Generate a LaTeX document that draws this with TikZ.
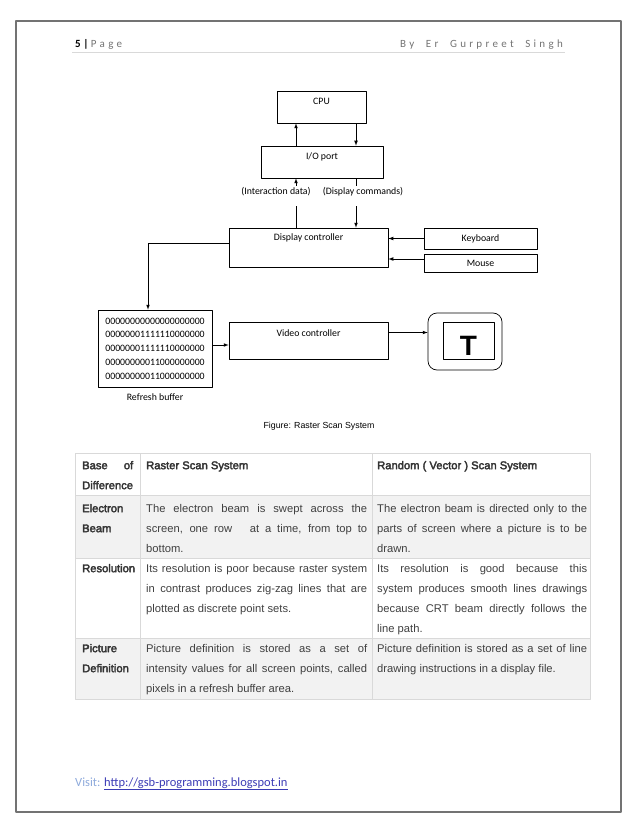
\documentclass[tikz,border=0pt]{standalone}
\usepackage{fontspec}
\setmainfont{Carlito}
\newfontfamily\arial{Liberation Sans}
\newfontfamily\arialb[FakeBold=3]{Liberation Sans}
\usetikzlibrary{positioning}
\definecolor{rowgray}{HTML}{F2F2F2}
\definecolor{tabline}{HTML}{D9D9D9}
\definecolor{visitblue}{HTML}{8EAADB}
\definecolor{linkblue}{HTML}{3B3BB5}
\newcommand{\jl}[2]{\makebox[#1][s]{#2}}

\begin{document}
\begin{tikzpicture}[x=1pt,y=-1pt,>=latex,line join=round,
  box/.style={draw,line width=0.7pt,inner sep=0pt},
  lbl/.style={font=\fontsize{9.8}{11}\selectfont},
  toplbl/.style={lbl,anchor=center,yshift=-#1},
  conlbl/.style={lbl,anchor=base,fill=white,inner xsep=1pt,inner ysep=0pt,
    text height=8.5pt,text depth=11.5pt},
  cell/.style={anchor=north west,inner sep=0pt,align=left,text=black!75,
    font=\arial\fontsize{11.2}{20}\selectfont},
  head/.style={cell,text=black!80,font=\arialb\fontsize{11.2}{20}\selectfont}]
  \useasboundingbox (0,0) rectangle (638,826);
  \def\wB{221pt}
  \def\wC{210pt}
  % page frame, header and footer
  \draw[black!55,line width=1.2pt] (16,21) rectangle (621,812);
  \node[anchor=base west,inner sep=0pt,font=\fontsize{11}{13}\selectfont] (pgno) at (75,48)
    {\textbf{5 |} \textcolor{black!55}{\addfontfeature{LetterSpace=30}Page}};
  \node[anchor=base east,inner sep=0pt,font=\fontsize{11}{13}\selectfont,text=black!55] (author) at (563,48)
    {\addfontfeature{LetterSpace=30}By\ \ Er\ \ Gurpreet\ \ Singh};
  \draw[black!15] (72,52) -- (565,52);
  \node[anchor=base west,inner sep=0pt,font=\fontsize{12.5}{15}\selectfont] (visit) at (75,786)
    {\textcolor{visitblue}{Visit:} \textcolor{linkblue}{\underline{http://gsb-programming.blogspot.in}}};

  % boxes of the raster scan system
  \node[box,minimum width=89pt,minimum height=32pt,label={[toplbl=11pt]north:CPU}] (cpu) at (321.5,107) {};
  \node[box,minimum width=122pt,minimum height=32pt,label={[toplbl=11pt]north:I/O port}] (io) at (322,162) {};
  \node[box,minimum width=159pt,minimum height=39pt,label={[toplbl=10pt]north:Display controller}] (disp) at (308.5,247.5) {};
  \node[box,lbl,minimum width=113pt,minimum height=21pt] (kbd) at (480.5,238.5) {Keyboard};
  \node[box,lbl,minimum width=113pt,minimum height=18pt] (mouse) at (480.5,263) {Mouse};
  \node[box,minimum width=114pt,minimum height=77pt,align=center,font=\fontsize{9.8}{13.75}\selectfont] (buf) at (155,348.5)
    {00000000000000000000\\00000001111110000000\\00000001111110000000\\00000000011000000000\\00000000011000000000};
  \node[lbl,below=3pt of buf] (buflbl) {Refresh buffer};
  \node[box,minimum width=159pt,minimum height=37pt,label={[toplbl=11pt]north:Video controller}] (vid) at (308.5,340.5) {};
  % monitor with the letter on screen
  \node[box,rounded corners=9pt,minimum width=74pt,minimum height=57pt] (mon) at (465,341.5) {};
  \node[box,minimum width=51pt,minimum height=37pt] (scr) at (468.5,340.5) {};
  \node[font=\arial\bfseries\fontsize{28}{30}\selectfont,inner sep=0pt] (tee) at (468.5,346) {T};

  % connectors
  \begin{scope}[line width=0.7pt]
    \draw[->] ([xshift=-26pt]io.north) -- ([xshift=-26pt]io.north |- cpu.south);
    \draw[->] ([xshift=34pt]io.north |- cpu.south) -- ([xshift=34pt]io.north);
    \draw[->] ([xshift=-26pt]io.south |- disp.north) -- ([xshift=-26pt]io.south);
    \draw[->] ([xshift=34pt]io.south) -- ([xshift=34pt]io.south |- disp.north);
    \draw[->] (kbd.west) -- (kbd.west -| disp.east);
    \draw[->] ([yshift=4pt]mouse.west) -- ([yshift=4pt]mouse.west -| disp.east);
    \draw[->] ([yshift=4pt]disp.west) -| ([xshift=-7pt]buf.north);
    \draw[->] ([yshift=-4.5pt]vid.west -| buf.east) -- ([yshift=-4.5pt]vid.west);
    \draw[->] ([yshift=8pt]vid.east) -- ([yshift=8pt]vid.east -| mon.west);
  \end{scope}
  \node[conlbl] (intdata) at (276,194.5) {(Interaction data)};
  \node[conlbl] (dispcmd) at (363,194.5) {(Display commands)};

  \node[font=\arial\fontsize{8.8}{10}\selectfont] (figcap) at (319,426) {Figure: Raster Scan System};

  % comparison table
  \fill[rowgray] (75,495) rectangle (590,558);
  \fill[rowgray] (75,638) rectangle (590,699);
  \foreach \y in {495,558,638}
    \draw[tabline] (75,\y) -- (590,\y);
  \foreach \x in {140,372}
    \draw[tabline] (\x,453) -- (\x,699);
  \draw[tabline] (75,453) rectangle (590,699);

  \node[head] (hbase) at (82,455) {\strut\jl{51pt}{Base of}\\Difference};
  \node[head] (hraster) at (146,455) {\strut Raster Scan System};
  \node[head] (hrandom) at (377,455) {\strut Random ( Vector ) Scan System};

  \node[head] (lbeam) at (82,498) {\strut Electron\\Beam};
  \node[cell] (rbeam) at (146,498) {\strut\jl{\wB}{The electron beam is swept across the}\\
    \jl{\wB}{screen, one row \ \ at a time, from top to}\\bottom.};
  \node[cell] (vbeam) at (377,498) {\strut\jl{\wC}{The electron beam is directed only to the}\\
    \jl{\wC}{parts of screen where a picture is to be}\\drawn.};

  \node[head] (lres) at (82,558) {\strut Resolution};
  \node[cell] (rres) at (146,558) {\strut\jl{\wB}{Its resolution is poor because raster system}\\
    \jl{\wB}{in contrast produces zig-zag lines that are}\\plotted as discrete point sets.};
  \node[cell] (vres) at (377,558) {\strut\jl{\wC}{Its resolution is good because this}\\
    \jl{\wC}{system produces smooth lines drawings}\\
    \jl{\wC}{because CRT beam directly follows the}\\line path.};

  \node[head] (lpic) at (82,638) {\strut Picture\\Definition};
  \node[cell] (rpic) at (146,638) {\strut\jl{\wB}{Picture definition is stored as a set of}\\
    \jl{\wB}{intensity values for all screen points, called}\\pixels in a refresh buffer area.};
  \node[cell] (vpic) at (377,638) {\strut\jl{\wC}{Picture definition is stored as a set of line}\\
    drawing instructions in a display file.};
\end{tikzpicture}
\end{document}
